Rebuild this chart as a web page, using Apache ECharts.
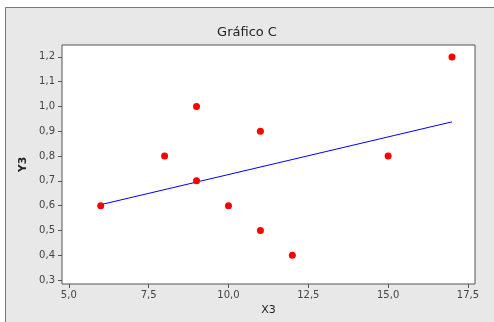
<!DOCTYPE html>
<html><head><meta charset="utf-8">
<script src="https://cdn.jsdelivr.net/npm/echarts@6/dist/echarts.min.js"></script>
<style>html,body{margin:0;padding:0;background:#fff;overflow:hidden}#c{width:494px;height:322px}</style>
</head><body><div id="c"></div>
<script>
const xValues = [6, 8, 9, 9, 10, 11, 11, 12, 15, 17];
const yValues = [0.6, 0.8, 1.0, 0.7, 0.6, 0.9, 0.5, 0.4, 0.8, 1.2];
const fitX = [6, 17];
const fitY = [0.604, 0.938];
const xTicks = [5.0, 7.5, 10.0, 12.5, 15.0, 17.5];
const yTicks = [0.3, 0.4, 0.5, 0.6, 0.7, 0.8, 0.9, 1.0, 1.1, 1.2];

const fmt = v => Number(v).toFixed(1).replace('.', ',');
const chart = echarts.init(document.getElementById('c'), null, {renderer: 'canvas'});
const font = 'DejaVu Sans';
chart.setOption({
  animation: false,
  backgroundColor: '#fff',
  graphic: [
    {type: 'rect', z: -10, silent: true,
     shape: {x: 5, y: 7, width: 520, height: 340},
     style: {fill: '#e8e8e8'}},
    {type: 'polyline', z: -9, silent: true,
     shape: {points: [[5.5, 340], [5.5, 7.5], [520, 7.5]]},
     style: {stroke: '#777', lineWidth: 1, fill: null}}
  ],
  title: {
    text: 'Gráfico C', left: 'center', top: 21,
    textStyle: {fontFamily: font, fontSize: 13, fontWeight: 'normal', color: '#222'}
  },
  grid: {left: 62, top: 45, right: 19, bottom: 38, show: true,
    backgroundColor: '#fff', borderColor: '#555', borderWidth: 1},
  xAxis: {
    type: 'value', min: 4.787, max: 17.72,
    name: 'X3', nameLocation: 'middle', nameGap: 19,
    nameTextStyle: {fontFamily: font, fontSize: 11, color: '#222'},
    axisLine: {show: false},
    splitLine: {show: false},
    axisTick: {show: true, length: 4, inside: false, customValues: xTicks, lineStyle: {color: '#555'}},
    axisLabel: {customValues: xTicks, formatter: fmt, margin: 6,
      fontFamily: font, fontSize: 10, color: '#444'}
  },
  yAxis: {
    type: 'value', min: 0.284, max: 1.248,
    name: 'Y3', nameLocation: 'middle', nameGap: 27, nameRotate: 90,
    nameTextStyle: {fontFamily: font, fontSize: 11, color: '#222', fontWeight: 'bold'},
    axisLine: {show: false},
    splitLine: {show: false},
    axisTick: {show: true, length: 4, inside: false, customValues: yTicks, lineStyle: {color: '#555'}},
    axisLabel: {customValues: yTicks, formatter: fmt, margin: 7,
      fontFamily: font, fontSize: 10, color: '#444'}
  },
  series: [
    {
      type: 'line', data: fitX.map((x, i) => [x, fitY[i]]),
      showSymbol: false, symbol: 'none',
      lineStyle: {color: '#0000ff', width: 1}, z: 2
    },
    {
      type: 'scatter', data: xValues.map((x, i) => [x, yValues[i]]),
      symbol: 'circle', symbolSize: 7,
      itemStyle: {color: '#ff0000', opacity: 1}, z: 3,
      emphasis: {disabled: true}
    }
  ]
});
</script></body></html>
